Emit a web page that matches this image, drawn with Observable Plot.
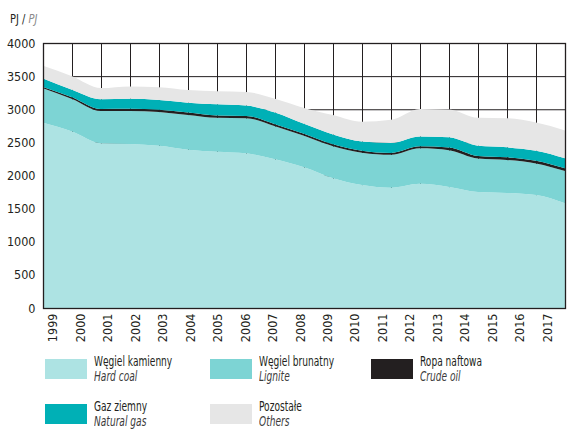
<!DOCTYPE html>
<html>
<head>
<meta charset="utf-8">
<script src="https://cdn.jsdelivr.net/npm/d3@7"></script>
<script src="https://cdn.jsdelivr.net/npm/@observablehq/plot@0.6"></script>
<style>
  html, body { margin: 0; padding: 0; background: #fff; }
  body { width: 574px; height: 438px; overflow: hidden; font-family: "DejaVu Sans Condensed", "Liberation Sans", sans-serif; color: #231f20; }
  #hdr { position: relative; height: 30px; }
  #hdr span { position: absolute; left: 10px; top: 12px; font-size: 12px; display: inline-block; transform: scaleX(0.92); transform-origin: left top; }
  #hdr i { color: #8a8a8a; }
  #legend { position: relative; height: 93px; }
  .item { position: absolute; }
  .sw { position: absolute; width: 42px; height: 20px; top: 0; left: 0; }
  .lab { position: absolute; left: 49px; top: -5px; font-size: 14px; line-height: 15px; white-space: nowrap; transform: scaleX(0.72); transform-origin: left top; }
  .lab i { color: #3c3c3c; }
</style>
</head>
<body>
<div id="hdr"><span>PJ / <i>PJ</i></span></div>
<div id="chart"></div>
<div id="legend"></div>
<script>
const years = [1999, 2000, 2001, 2002, 2003, 2004, 2005, 2006, 2007, 2008, 2009, 2010, 2011, 2012, 2013, 2014, 2015, 2016, 2017];
const hardCoal   = [2795, 2665, 2486, 2475, 2448, 2390, 2360, 2335, 2245, 2125, 1960, 1857, 1815, 1875, 1828, 1750, 1736, 1706, 1580];
const lignite    = [522, 490, 486, 500, 512, 523, 510, 531, 500, 474, 481, 488, 499, 536, 553, 505, 499, 476, 487];
const crudeOil   = [18, 27, 32, 31, 32, 37, 35, 34, 30, 31, 29, 29, 26, 29, 41, 39, 39, 40, 41];
const naturalGas = [130, 113, 146, 152, 148, 150, 169, 155, 175, 150, 150, 138, 152, 150, 154, 154, 151, 150, 151];
const others     = [190, 205, 170, 187, 193, 190, 198, 207, 210, 240, 293, 300, 348, 415, 421, 422, 438, 428, 421];

const seriesPL = ["Węgiel kamienny", "Węgiel brunatny", "Ropa naftowa", "Gaz ziemny", "Pozostałe"];
const seriesEN = ["Hard coal", "Lignite", "Crude oil", "Natural gas", "Others"];
const seriesColors = ["#ade3e3", "#7dd4d4", "#231f20", "#00b0b6", "#e6e6e6"];
const yTicks = [0, 500, 1000, 1500, 2000, 2500, 3000, 3500, 4000];

const seriesValues = [hardCoal, lignite, crudeOil, naturalGas, others];
const table = [];
seriesValues.forEach((vals, s) => {
  vals.forEach((v, i) => table.push({ year: years[i], value: v, series: seriesPL[s] }));
});

// year labels centred in equal bands across the plot width
const n = years.length;
const labelPos = years.map((y, i) => years[0] + (i + 0.5) * (years[n - 1] - years[0]) / n);

const chart = Plot.plot({
  width: 574,
  height: 315,
  marginTop: 13,
  marginLeft: 43,
  marginRight: 9,
  marginBottom: 37,
  style: { fontFamily: '"DejaVu Sans Condensed", "Liberation Sans", sans-serif', fontSize: "12.5px", color: "#231f20", background: "#fff" },
  x: { domain: [years[0], years[n - 1]], axis: null },
  y: { domain: [0, 4000], ticks: yTicks, tickSize: 0, tickPadding: 8, tickFormat: d3.format("d"), label: null },
  color: { domain: seriesPL, range: seriesColors },
  marks: [
    Plot.gridX(years, { stroke: "#231f20", strokeOpacity: 1, strokeWidth: 1 }),
    Plot.gridY(yTicks, { stroke: "#231f20", strokeOpacity: 1, strokeWidth: 1 }),
    Plot.areaY(table, { x: "year", y: "value", fill: "series", order: seriesPL, curve: "monotone-x" }),
    Plot.frame({ stroke: "#231f20", strokeWidth: 1.3 }),
    Plot.axisY({ ticks: yTicks, tickSize: 0, tickPadding: 8, tickFormat: d3.format("d"), label: null, fontSize: 12.5, fill: "#231f20" }),
    Plot.text(years, {
      x: (d, i) => labelPos[i],
      text: d => String(d),
      frameAnchor: "bottom",
      rotate: -90,
      textAnchor: "end",
      dy: 5,
      fontSize: 12.5,
      fill: "#231f20"
    })
  ]
});
document.getElementById("chart").appendChild(chart);

// legend
const legendPos = [[45, 14], [210, 14], [371, 14], [45, 59], [210, 59]];
const legend = document.getElementById("legend");
seriesPL.forEach((name, i) => {
  const it = document.createElement("div");
  it.className = "item";
  it.style.left = legendPos[i][0] + "px";
  it.style.top = legendPos[i][1] + "px";
  it.innerHTML = `<div class="sw" style="background:${seriesColors[i]}"></div><div class="lab">${name}<br><i>${seriesEN[i]}</i></div>`;
  legend.appendChild(it);
});
</script>
</body>
</html>
